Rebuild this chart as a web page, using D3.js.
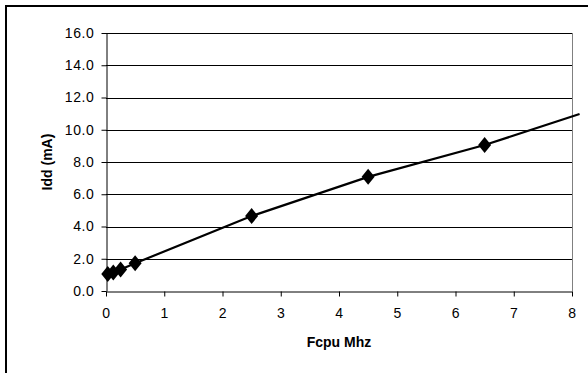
<!DOCTYPE html>
<html>
  <head>
    <meta charset="utf-8">
    <title>Idd vs Fcpu</title>
    <script src="https://d3js.org/d3.v7.min.js"></script>
    <style>
      body { margin: 0; background: #fff; }
      svg { display: block; font-family: Arial, "Liberation Sans", sans-serif; }
      .tick text { font-size: 14px; fill: #000; letter-spacing: 0.6px; }
      .label { font-size: 14px; font-weight: bold; fill: #000; }
    </style>
  </head>
  <body>
    <svg id="chart" width="588" height="373"></svg>
    <script>
      // measured points
      fcpu = [0.03, 0.125, 0.25, 0.5, 2.5, 4.5, 6.5];
      idd = [1.05, 1.15, 1.33, 1.72, 4.65, 7.08, 9.05];
      // line runs on past the last point
      lineX = [0.03, 0.125, 0.25, 0.5, 2.5, 4.5, 6.5, 8.13];
      lineY = [1.05, 1.15, 1.33, 1.72, 4.65, 7.08, 9.05, 10.98];
      xTicks = [0, 1, 2, 3, 4, 5, 6, 7, 8];
      yTicks = [0, 2, 4, 6, 8, 10, 12, 14, 16];

      chart = d3.select("#chart");
      margin = { top: 33, right: 16, bottom: 82, left: 106 };
      width = 588;
      height = 373;

      // outer frame (runs off the picture on right and bottom)
      chart.append("rect")
        .attr("x", 6).attr("y", 6)
        .attr("width", 620).attr("height", 420)
        .style("fill", "none")
        .style("stroke", "#000")
        .style("stroke-width", 2);

      x = d3.scaleLinear().domain([0, 8]).range([margin.left, width - margin.right]);
      y = d3.scaleLinear().domain([0, 16]).range([height - margin.bottom, margin.top]);

      // gridlines
      chart.append("g")
        .selectAll("line")
        .data(yTicks.slice(1))
        .enter().append("line")
          .attr("x1", x(0)).attr("x2", x(8))
          .attr("y1", function(d) { return Math.round(y(d)) + 0.5; })
          .attr("y2", function(d) { return Math.round(y(d)) + 0.5; })
          .style("stroke", "#000")
          .style("stroke-width", 1);

      // right border of plot area
      chart.append("line")
        .attr("x1", Math.round(x(8)) + 0.5).attr("x2", Math.round(x(8)) + 0.5)
        .attr("y1", y(16)).attr("y2", y(0))
        .style("stroke", "#808080");

      xAxis = d3.axisBottom(x)
        .tickValues(xTicks)
        .tickSizeInner(5)
        .tickSizeOuter(0)
        .tickPadding(12)
        .tickFormat(d3.format("d"));
      yAxis = d3.axisLeft(y)
        .tickValues(yTicks)
        .tickSizeInner(5)
        .tickSizeOuter(0)
        .tickPadding(7)
        .tickFormat(d3.format(".1f"));

      xAxisGroup = chart.append("g")
        .attr("transform", "translate(0," + (Math.round(y(0)) + 0.5) + ")")
        .call(xAxis);
      yAxisGroup = chart.append("g")
        .attr("transform", "translate(" + (Math.round(x(0)) + 0.5) + ",0)")
        .call(yAxis);
      chart.selectAll(".domain, .tick line").style("stroke", "#000");

      chart.append("text")
        .classed("label", true)
        .attr("text-anchor", "middle")
        .attr("x", (x(0) + x(8)) / 2)
        .attr("y", 347)
        .text("Fcpu Mhz");
      chart.append("text")
        .classed("label", true)
        .attr("text-anchor", "middle")
        .attr("transform", "translate(52," + (y(8)) + ") rotate(-90)")
        .text("Idd (mA)");

      // series line
      line = d3.line()
        .x(function(d) { return x(d[0]); })
        .y(function(d) { return y(d[1]); });
      chart.append("path")
        .datum(d3.zip(lineX, lineY))
        .attr("d", line)
        .style("fill", "none")
        .style("stroke", "#000")
        .style("stroke-width", 2.2);

      // diamond markers
      chart.append("g")
        .selectAll("path")
        .data(d3.zip(fcpu, idd))
        .enter().append("path")
          .attr("transform", function(d) { return "translate(" + x(d[0]) + "," + y(d[1]) + ")"; })
          .attr("d", "M0,-8L6.5,0L0,8L-6.5,0Z")
          .style("fill", "#000");
    </script>
  </body>
</html>
